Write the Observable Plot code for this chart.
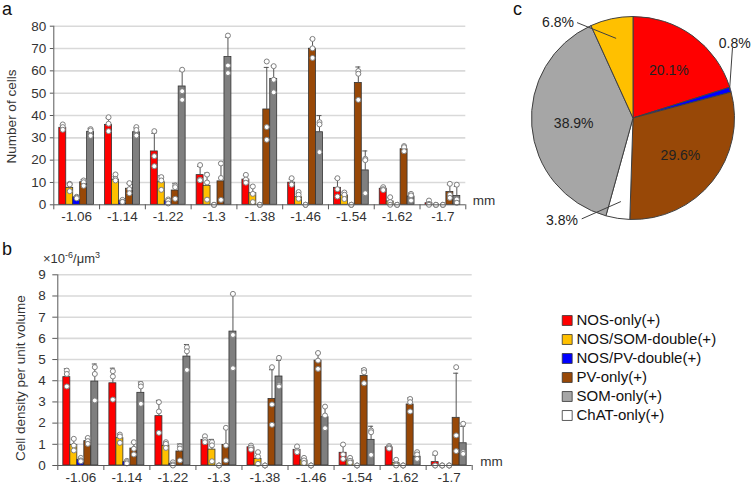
<!DOCTYPE html>
<html><head><meta charset="utf-8">
<script src="https://cdn.jsdelivr.net/npm/d3@7"></script>
<script src="https://cdn.jsdelivr.net/npm/@observablehq/plot@0.6"></script>
<style>
body{margin:0;background:#fff;font-family:"Liberation Sans",Arial,sans-serif;}
#fig{position:relative;width:752px;height:487px;overflow:hidden;background:#fff;}
.abs{position:absolute;}
.letter{font-size:18px;line-height:18px;color:#111;}
.unit{font-size:13px;line-height:13px;color:#333;white-space:nowrap;}
.unit sup{font-size:9px;vertical-align:5px;line-height:0;}
svg text{font-family:"Liberation Sans",Arial,sans-serif;}
</style></head><body><div id="fig">
<div class="abs letter" style="left:2px;top:0px">a</div>
<div class="abs letter" style="left:2px;top:240px">b</div>
<div class="abs letter" style="left:513px;top:0px">c</div>
<div id="pa" class="abs" style="left:0;top:0"></div>
<div id="pb" class="abs" style="left:0;top:230px"></div>
<div id="pc" class="abs" style="left:517px;top:2px"></div>
<div id="leg" class="abs" style="left:540px;top:290px"></div>
<div class="abs unit" style="left:43px;top:252px">×10<sup>-6</sup>/μm<sup>3</sup></div>
</div>
<script>
// ---------- data ----------
const positions = ["-1.06","-1.14","-1.22","-1.3","-1.38","-1.46","-1.54","-1.62","-1.7"];
const barSeries = ["NOS-only(+)","NOS/SOM-double(+)","NOS/PV-double(+)","PV-only(+)","SOM-only(+)"];
const allSeries = ["NOS-only(+)","NOS/SOM-double(+)","NOS/PV-double(+)","PV-only(+)","SOM-only(+)","ChAT-only(+)"];
const barColors = ["#ff0000","#ffc000","#0000ff","#984807","#7f7f7f"];
const legendColors = ["#ff0000","#ffc000","#0000ff","#984807","#a6a6a6","#ffffff"];

// panel a: number of cells (means per series, per position)
const cellsNOS    = [34.5, 35.8, 23.9, 13.3, 11.3, 9.9, 7.6, 7.2, 0.7];
const cellsNOSSOM = [7.6, 11.2, 10.1, 8.5, 5.2, 3.4, 4.2, 1.5, 0];
const cellsNOSPV  = [3.3, 1.6, 1.6, 0, 0, 0, 0, 0, 0];
const cellsPV     = [10.1, 7.2, 6.4, 10.5, 42.7, 69.9, 54.6, 24.9, 5.7];
const cellsSOM    = [32.7, 32.5, 53.0, 66.2, 56.4, 32.5, 15.4, 3.7, 3.9];
// individual animals (3 per bar)
const ptsCellsNOS    = [[36,34.8,33.6],[39.2,36.3,33],[33,21.8,17.3],[17.8,11.2,11],[13.4,11.3,9.9],[11.9,9.4,9],[11.9,7,3.7],[7.9,7,6.6],[1.9,0.4,0]];
const ptsCellsNOSSOM = [[9.4,9.1,6.1],[13.6,11.6,10.9],[12.4,10.9,6.7],[13.5,10,2.3],[8.2,4.9,1.2],[5.7,4.5,2.7],[5.5,4.5,2.6],[3.4,1.2,0],[0,0,0]];
const ptsCellsNOSPV  = [[3.6,3.2,2.9],[2.2,1.3,1.3],[2.4,1.8,0.6],[0,0,0],[0,0,0],[0,0,0],[0,0,0],[0,0,0],[0,0,0]];
const ptsCellsPV     = [[10.9,10.1,8.5],[9.7,7,5.2],[8.6,7.9,2.7],[18.5,12,2.2],[64.2,34.8,29.1],[74.3,70.1,65.8],[59.9,58.7,47],[26.3,25.8,24],[9.4,4.5,3.1]];
const ptsCellsSOM    = [[33.9,33.3,30.9],[34.8,33.5,31],[60.5,50.9,47],[75.8,62.4,59],[62.1,56,50.4],[37,36,23.6],[20.6,20,5.2],[4.9,4.2,1.9],[9,2.4,0.9]];
const cellTicks = [0,10,20,30,40,50,60,70,80];

// panel b: cell density (x10^-6 / um^3)
const densNOS    = [4.17, 3.88, 2.33, 1.21, 0.86, 0.74, 0.6, 0.86, 0.16];
const densNOSSOM = [0.97, 1.29, 0.93, 0.75, 0.31, 0.24, 0.24, 0.11, 0];
const densNOSPV  = [0.27, 0.16, 0.08, 0, 0, 0, 0, 0, 0];
const densPV     = [1.15, 0.8, 0.66, 0.97, 3.14, 4.95, 4.23, 2.88, 2.25];
const densSOM    = [3.96, 3.43, 5.14, 6.32, 4.2, 2.28, 1.21, 0.42, 1.05];
const ptsDensNOS    = [[4.48,4.32,3.73],[4.45,4.2,3.11],[2.99,2.55,1.54],[1.38,1.2,1.1],[0.94,0.85,0.75],[0.9,0.7,0.63],[0.99,0.52,0.31],[0.92,0.86,0.8],[0.58,0,0]];
const ptsDensNOSSOM = [[1.26,0.94,0.71],[1.46,1.37,1.07],[1.1,1.02,0.83],[1.1,0.95,0.2],[0.63,0.42,0.08],[0.36,0.24,0.12],[0.36,0.22,0.14],[0.27,0.05,0],[0,0,0]];
const ptsDensNOSPV  = [[0.36,0.24,0.2],[0.22,0.16,0.1],[0.15,0.05,0],[0,0,0],[0,0,0],[0,0,0],[0,0,0],[0,0,0],[0,0,0]];
const ptsDensPV     = [[1.3,1.15,1.02],[1.1,0.79,0.52],[0.9,0.8,0.24],[1.78,0.94,0.24],[4.64,2.88,1.92],[5.31,4.95,4.56],[4.51,4.4,3.88],[3.14,2.99,2.55],[4.64,1.42,0.68]];
const ptsDensSOM    = [[4.64,4.32,3.07],[3.85,3.73,2.91],[5.58,5.39,4.51],[8.1,6.16,4.59],[5.08,3.79,3.73],[2.78,2.36,1.76],[1.65,1.57,0.5],[0.63,0.52,0.31],[1.97,0.63,0.55]];
const densTicks = [0,1,2,3,4,5,6,7,8,9];

// panel c: proportions (%), clockwise from 12 o'clock
const pieLabels = ["NOS-only(+)","NOS/PV-double(+)","PV-only(+)","ChAT-only(+)","SOM-only(+)","NOS/SOM-double(+)"];
const pieValues = [20.1, 0.8, 29.6, 3.8, 38.9, 6.8];

// ---------- style ----------
const FONT = "'Liberation Sans', Arial, sans-serif";
const TXT = "#333";
const AX = "#595959";
const FS = 13.5;
const groupPad = 0.12, barW = 0.152;

function barPanel(o) {
  const rows = [], dots = [];
  positions.forEach((p, i) => barSeries.forEach((s, k) => {
    const m = o.means[k][i], pts = o.points[k][i];
    const x1 = i + groupPad + k * barW;
    const sd = d3.deviation(pts) || 0;
    rows.push({series: s, x1, x2: x1 + barW, xc: x1 + barW / 2, mean: m, top: m + sd, sd});
    pts.forEach(v => dots.push({xc: x1 + barW / 2, v}));
  }));
  const withBar = rows.filter(d => d.mean > 0);
  const withErr = withBar.filter(d => d.sd > 0);
  const yMax = o.ticks[o.ticks.length - 1];
  return Plot.plot({
    width: o.width, height: o.height,
    marginTop: o.mt, marginBottom: o.mb, marginLeft: o.ml, marginRight: o.mr,
    style: {fontFamily: FONT, fontSize: FS + "px", color: TXT, background: "transparent", overflow: "visible"},
    x: {domain: [0, positions.length]},
    y: {domain: [0, yMax]},
    color: {domain: barSeries, range: barColors},
    marks: [
      Plot.gridY({ticks: o.ticks.filter(t => t > 0), stroke: "#d9d9d9", strokeOpacity: 1, strokeWidth: 1.6}),
      Plot.rectY(withBar, {x1: "x1", x2: "x2", y: "mean", fill: "series", stroke: "#333", strokeWidth: 0.8}),
      Plot.ruleX(withErr, {x: "xc", y1: "mean", y2: "top", stroke: "#555", strokeWidth: 1}),
      Plot.ruleY(withErr, {y: "top", x1: "xc", x2: "xc", insetLeft: -2.5, insetRight: -2.5, stroke: "#555", strokeWidth: 1}),
      Plot.dot(dots, {x: "xc", y: "v", r: 2.5, fill: "white", stroke: "#808080", strokeWidth: 1}),
      Plot.ruleX([0], {stroke: AX, strokeWidth: 1}),
      Plot.ruleY([0], {stroke: AX, strokeWidth: 1}),
      Plot.axisY({ticks: o.ticks, tickSize: o.tickSize, tickPadding: o.tickPad, label: null, stroke: AX, fontSize: FS, fill: TXT}),
      Plot.axisX({ticks: d3.range(positions.length + 1), tickSize: 5, tickFormat: () => "", label: null, stroke: AX}),
      Plot.axisX({ticks: positions.map((_, i) => i + 0.5), tickSize: 0, tickPadding: 7, fontSize: FS, fill: TXT,
                  tickFormat: d => positions[Math.round(d - 0.5)], label: null}),
      Plot.text([o.title], {text: d => d, frameAnchor: "left", textAnchor: "middle", rotate: -90,
                            dx: o.titleDx, dy: o.titleDy, fill: TXT, fontSize: FS}),
      Plot.text(["mm"], {text: d => d, frameAnchor: "bottom-right", textAnchor: "start", dx: o.mmDx, fill: TXT, fontSize: FS})
    ]
  });
}

document.getElementById("pa").append(barPanel({
  means: [cellsNOS, cellsNOSSOM, cellsNOSPV, cellsPV, cellsSOM],
  points: [ptsCellsNOS, ptsCellsNOSSOM, ptsCellsNOSPV, ptsCellsPV, ptsCellsSOM],
  ticks: cellTicks, title: "Number of cells",
  width: 500, height: 230, mt: 25.7, mb: 25.7, ml: 53.3, mr: 34.7,
  tickSize: 3.5, tickPad: 4, titleDx: -42, titleDy: 1, mmDx: 7
}));

document.getElementById("pb").append(barPanel({
  means: [densNOS, densNOSSOM, densNOSPV, densPV, densSOM],
  points: [ptsDensNOS, ptsDensNOSSOM, ptsDensNOSPV, ptsDensPV, ptsDensSOM],
  ticks: densTicks, title: "Cell density per unit volume",
  width: 510, height: 257, mt: 44.3, mb: 22, ml: 57.3, mr: 38.3,
  tickSize: 5, tickPad: 7, titleDx: -37, titleDy: 8, mmDx: 8
}));

// ---------- pie ----------
const pieRadius = 101.5;
const pieArcs = d3.pie().sort(null).value(d => d.value)(pieLabels.map((label, i) => ({label, value: pieValues[i]})));
const mid = a => (a.startAngle + a.endAngle) / 2;
const polar = (ang, r) => [r * Math.sin(ang), -r * Math.cos(ang)];
const insideRows = pieArcs.filter(a => a.data.value >= 10).map(a => {
  const [x, y] = polar(mid(a), 60);
  return {x, y, text: a.data.value.toFixed(1) + "%"};
});
// callout placement: label polar angle (deg) and radius, leader start radius, leader end offset from label
const callouts = {
  "NOS/SOM-double(+)": {deg: -38.2, r: 122, rin: 82, end: [19, 0]},
  "NOS/PV-double(+)":  {deg: 53.5, r: 126, rin: 100, end: [-2.3, 4]},
  "ChAT-only(+)":      {deg: 215, r: 124.6, rin: 84, end: [19.7, -1.7]}
};
const outsideRows = pieArcs.filter(a => callouts[a.data.label]).map(a => {
  const c = callouts[a.data.label];
  const [x, y] = polar(c.deg * Math.PI / 180, c.r);
  const [x1, y1] = polar(mid(a), c.rin);
  return {x, y, text: a.data.value.toFixed(1) + "%", x1, y1, x2: x + c.end[0], y2: y + c.end[1]};
});
const pieMark = (index, scales) => {
  const cx = scales.x(0), cy = scales.y(0);
  const R = scales.x(pieRadius) - cx;
  const col = scales.color || (l => legendColors[allSeries.indexOf(l)]);
  const arc = d3.arc().innerRadius(0).outerRadius(R);
  const g = d3.create("svg:g").attr("transform", `translate(${cx},${cy})`);
  g.selectAll("path").data(pieArcs).join("path")
    .attr("d", arc).attr("fill", d => col(d.data.label))
    .attr("stroke", "#404040").attr("stroke-width", 1).attr("stroke-linejoin", "round");
  return g.node();
};
document.getElementById("pc").append(Plot.plot({
  width: 232, height: 232, margin: 0,
  style: {fontFamily: FONT, fontSize: "14px", color: "#222", background: "transparent", overflow: "visible"},
  x: {domain: [-116, 116], range: [0, 232], axis: null},
  y: {domain: [-116, 116], range: [0, 232], axis: null},
  color: {domain: allSeries, range: legendColors},
  marks: [
    Plot.dot(pieArcs, {fill: d => d.data.label, r: 0}),
    pieMark,
    Plot.link(outsideRows, {x1: "x1", y1: "y1", x2: "x2", y2: "y2", stroke: "#404040", strokeWidth: 1}),
    Plot.text(insideRows, {x: "x", y: "y", text: "text", fill: "#222", fontSize: 14}),
    Plot.text(outsideRows, {x: "x", y: "y", text: "text", fill: "#222", fontSize: 14})
  ]
}));

// ---------- legend ----------
document.getElementById("leg").append(Plot.plot({
  width: 212, height: 160, margin: 0,
  style: {fontFamily: FONT, fontSize: "15px", color: "#111", background: "transparent", overflow: "visible"},
  y: {type: "point", domain: allSeries, range: [18.3, 136.7], axis: null},
  color: {domain: allSeries, range: legendColors},
  marks: [
    Plot.dot(allSeries, {y: d => d, fill: d => d, symbol: "square", r: 5.6, stroke: "#333", strokeWidth: 0.8, frameAnchor: "left", dx: 26.7}),
    Plot.text(allSeries, {y: d => d, text: d => d, frameAnchor: "left", textAnchor: "start", dx: 36, fill: "#111", fontSize: 15})
  ]
}));
</script>
</body></html>
